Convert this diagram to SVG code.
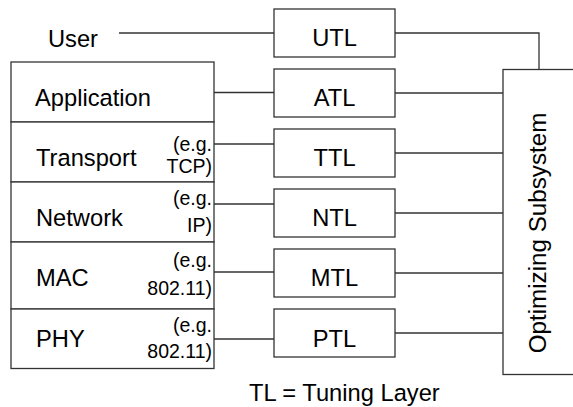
<svg xmlns="http://www.w3.org/2000/svg" width="573" height="407" viewBox="0 0 573 407">
<style>
.b{fill:#fff;stroke:#333;stroke-width:1.3}
.l{fill:none;stroke:#333;stroke-width:1.3}
text{font-family:"Liberation Sans",Arial,sans-serif;fill:#000}
.m{font-size:23.7px}
.s{font-size:19.5px;text-anchor:end}
.c{text-anchor:middle}
</style>
<rect width="573" height="407" fill="#fff"/>
<g id="connectors">
<path class="l" d="M119,33H274"/>
<path class="l" d="M214,92.5H274"/>
<path class="l" d="M214,144H274"/>
<path class="l" d="M214,204H274"/>
<path class="l" d="M214,272H274"/>
<path class="l" d="M214,339H274"/>
<path class="l" d="M395,33H539V69.5"/>
<path class="l" d="M395,93H503"/>
<path class="l" d="M395,153H503"/>
<path class="l" d="M395,213H503"/>
<path class="l" d="M395,273H503"/>
<path class="l" d="M395,333H503"/>
</g>
<g id="user"><text class="m" x="48" y="47">User</text></g>
<g id="application"><rect class="b" x="11" y="62" width="203" height="60"/><text class="m" x="35" y="106">Application</text></g>
<g id="transport"><rect class="b" x="11" y="122" width="203" height="60"/><text class="m" x="36" y="166">Transport</text><text class="s" x="212" y="150.5">(e.g.</text><text class="s" x="212" y="172.5">TCP)</text></g>
<g id="network"><rect class="b" x="11" y="182" width="203" height="60"/><text class="m" x="36" y="225.5">Network</text><text class="s" x="212" y="205">(e.g.</text><text class="s" x="212" y="231.5">IP)</text></g>
<g id="mac"><rect class="b" x="11" y="242" width="203" height="67"/><text class="m" x="36" y="286">MAC</text><text class="s" x="212" y="267">(e.g.</text><text class="s" x="212" y="295">802.11)</text></g>
<g id="phy"><rect class="b" x="11" y="309" width="203" height="59.5"/><text class="m" x="36" y="347">PHY</text><text class="s" x="212" y="331.5">(e.g.</text><text class="s" x="212" y="358">802.11)</text></g>
<g id="utl"><rect class="b" x="274" y="9" width="121" height="48"/><text class="m c" x="334.5" y="45.5">UTL</text></g>
<g id="atl"><rect class="b" x="274" y="69" width="121" height="48"/><text class="m c" x="334.5" y="106">ATL</text></g>
<g id="ttl"><rect class="b" x="274" y="129" width="121" height="48"/><text class="m c" x="334.5" y="166">TTL</text></g>
<g id="ntl"><rect class="b" x="274" y="189" width="121" height="48"/><text class="m c" x="334.5" y="226">NTL</text></g>
<g id="mtl"><rect class="b" x="274" y="249" width="121" height="48"/><text class="m c" x="334.5" y="286">MTL</text></g>
<g id="ptl"><rect class="b" x="274" y="309" width="121" height="48"/><text class="m c" x="334.5" y="346.5">PTL</text></g>
<g id="optimizer"><rect class="b" x="503" y="69.5" width="80" height="305"/><text class="m c" style="font-size:24.2px" transform="translate(546,233) rotate(-90)">Optimizing Subsystem</text></g>
<g id="legend"><text class="m" x="249" y="400.5">TL = Tuning Layer</text></g>
</svg>
